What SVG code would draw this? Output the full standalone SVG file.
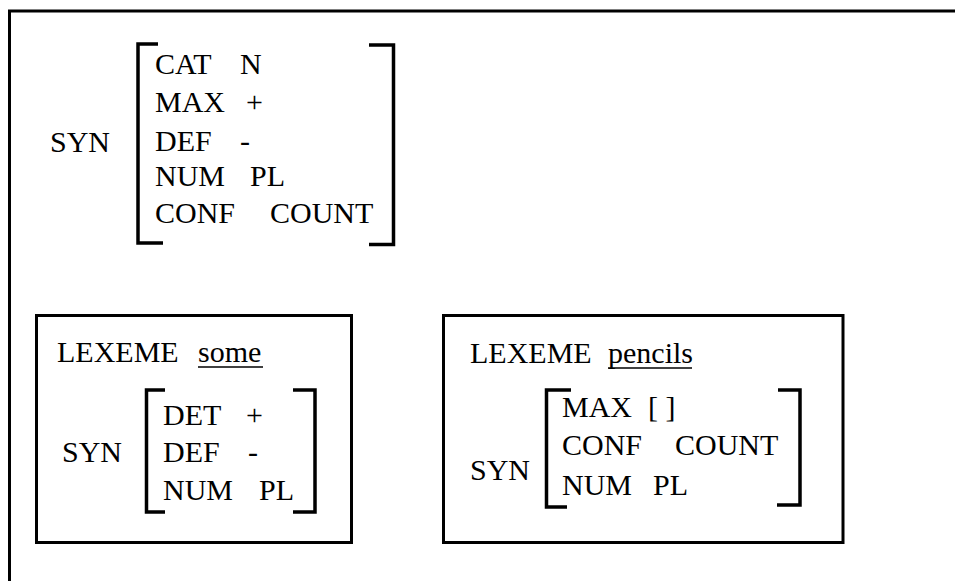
<svg xmlns="http://www.w3.org/2000/svg" width="955" height="581" viewBox="0 0 955 581">
  <style>
    .t { font-family: "Liberation Serif", "Times New Roman", serif; font-size: 30px; fill: #000; }
    .frame { fill: none; stroke: #000; stroke-width: 3; }
    .br { fill: none; stroke: #000; stroke-width: 3.5; stroke-linecap: butt; stroke-linejoin: miter; }
    .ul { stroke: #000; stroke-width: 1.5; }
  </style>
  <rect width="955" height="581" fill="#fff"/>

  <!-- outer frame: only top and left edges fall inside the page -->
  <path class="frame" d="M9.5 600 V11 H960"/>

  <!-- main feature structure -->
  <g id="syn-main">
    <text class="t" x="50" y="152">SYN</text>
    <path class="br" d="M158 44 H138 V243 H163"/>
    <path class="br" d="M369 45 H393.5 V244.5 H369"/>
    <text class="t" y="74"><tspan x="155">CAT</tspan><tspan x="240">N</tspan></text>
    <text class="t" y="112"><tspan x="155">MAX</tspan><tspan x="246">+</tspan></text>
    <text class="t" y="151"><tspan x="155">DEF</tspan><tspan x="240">-</tspan></text>
    <text class="t" y="186"><tspan x="155">NUM</tspan><tspan x="250">PL</tspan></text>
    <text class="t" y="223"><tspan x="155">CONF</tspan><tspan x="270">COUNT</tspan></text>
  </g>

  <!-- lexeme "some" -->
  <g id="lex-some">
    <rect class="frame" x="36.5" y="315.5" width="315" height="227"/>
    <text class="t" x="57" y="362">LEXEME</text>
    <text class="t" x="198" y="362">some</text>
    <line class="ul" x1="198" y1="367" x2="263" y2="367"/>
    <text class="t" x="62" y="462">SYN</text>
    <path class="br" d="M165 390 H146.5 V512 H165"/>
    <path class="br" d="M293 390 H315 V512 H293"/>
    <text class="t" y="425"><tspan x="163">DET</tspan><tspan x="246">+</tspan></text>
    <text class="t" y="462"><tspan x="163">DEF</tspan><tspan x="248">-</tspan></text>
    <text class="t" y="500"><tspan x="163">NUM</tspan><tspan x="259">PL</tspan></text>
  </g>

  <!-- lexeme "pencils" -->
  <g id="lex-pencils">
    <rect class="frame" x="443.5" y="315.5" width="399.5" height="227"/>
    <text class="t" x="470" y="363">LEXEME</text>
    <text class="t" x="608" y="363">pencils</text>
    <line class="ul" x1="608" y1="368" x2="692" y2="368"/>
    <text class="t" x="470" y="480">SYN</text>
    <path class="br" d="M571 390 H546.5 V507 H567"/>
    <path class="br" d="M778 390 H800 V505 H777"/>
    <text class="t" y="417"><tspan x="562">MAX</tspan><tspan x="648">[ ]</tspan></text>
    <text class="t" y="455"><tspan x="562">CONF</tspan><tspan x="675">COUNT</tspan></text>
    <text class="t" y="495"><tspan x="562">NUM</tspan><tspan x="653">PL</tspan></text>
  </g>

  <g id="connectors"/>
</svg>
